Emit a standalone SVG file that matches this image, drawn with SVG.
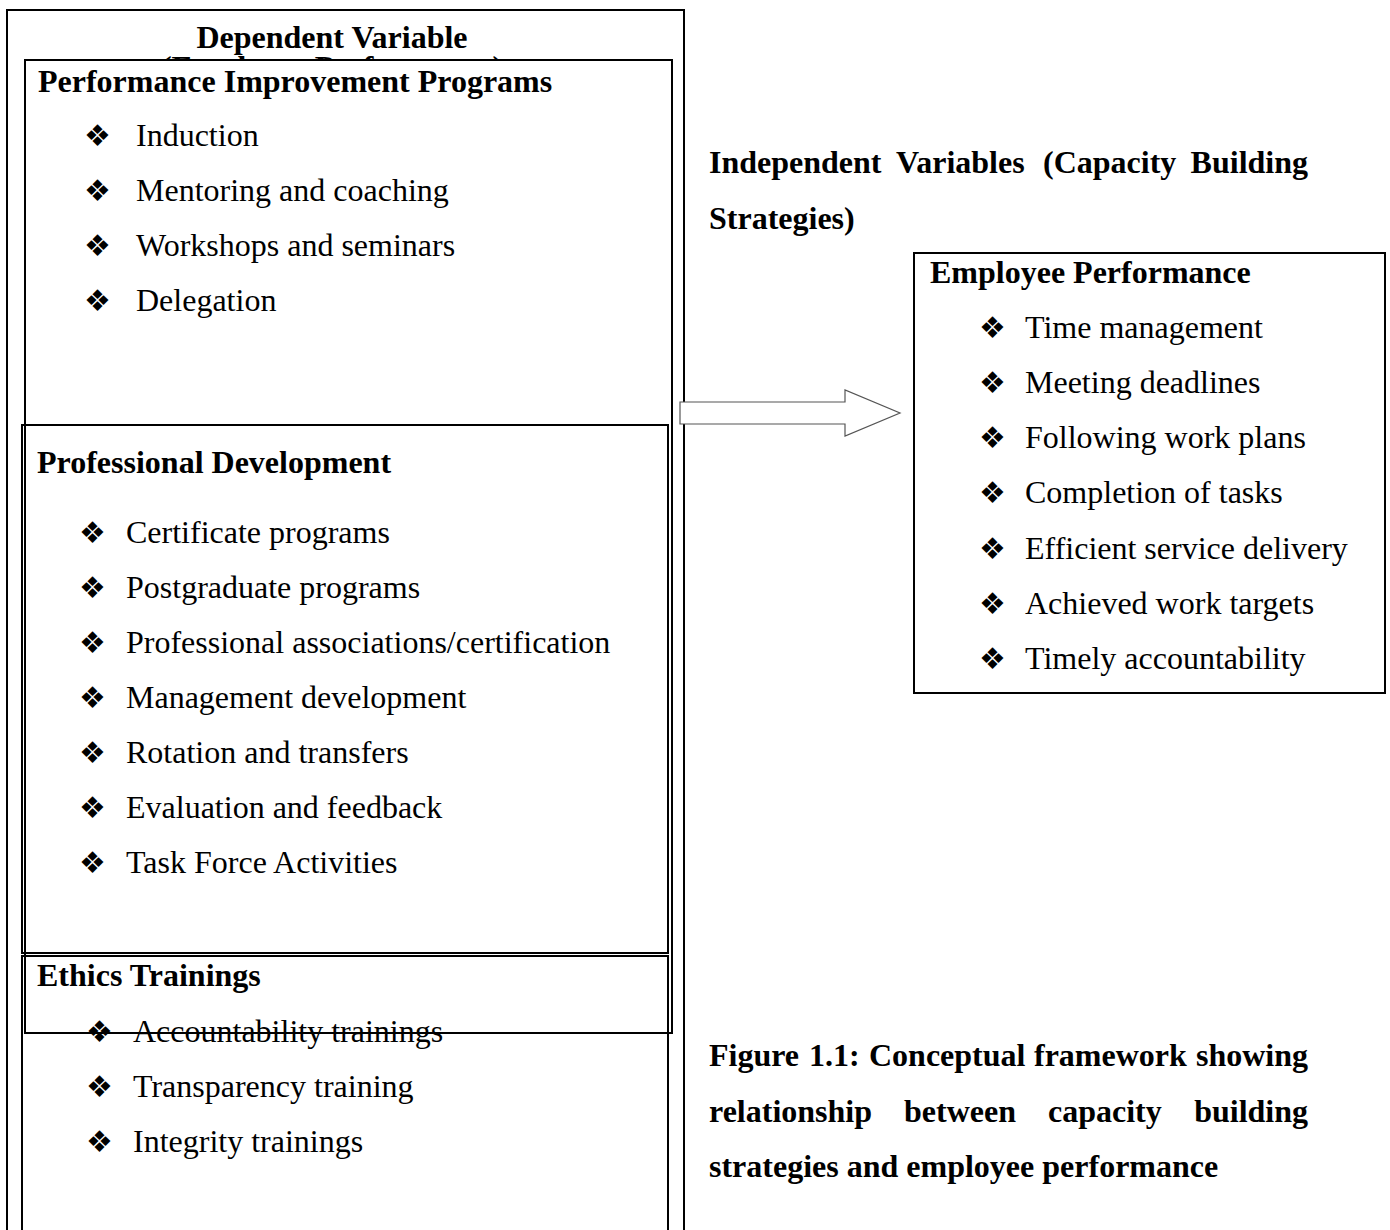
<svg xmlns="http://www.w3.org/2000/svg" width="1390" height="1230" viewBox="0 0 1390 1230">
  <style>
    .box { fill: none; stroke: #000; stroke-width: 2; }
    .h { font-family: "Liberation Serif", "Times New Roman", serif; font-size: 32px; font-weight: bold; fill: #000; }
    .t { font-family: "Liberation Serif", "Times New Roman", serif; font-size: 32px; fill: #000; }
    .b { font-family: "DejaVu Sans", sans-serif; font-size: 30px; fill: #000; }
  </style>
  <rect width="1390" height="1230" fill="#fff"/>

  <!-- outer frame: dependent variable -->
  <g id="dependent-variable">
    <rect class="box" x="7" y="10" width="677" height="1240"/>
    <text class="h" x="332" y="48" text-anchor="middle">Dependent Variable</text>
    <text class="h" x="332" y="78" text-anchor="middle">(Employee Performance)</text>
    <!-- backing of the programs box, hides the lower part of the subtitle -->
    <rect x="26" y="61" width="645" height="40" fill="#fff"/>
  </g>

  <!-- ethics trainings box -->
  <g id="ethics-trainings">
    <rect class="box" x="22" y="956" width="646" height="300"/>
    <text class="h" x="37" y="986">Ethics Trainings</text>
    <text class="b" x="86" y="1042">❖</text><text class="t" x="133" y="1042">Accountability trainings</text>
    <text class="b" x="86" y="1097">❖</text><text class="t" x="133" y="1097">Transparency training</text>
    <text class="b" x="86" y="1152">❖</text><text class="t" x="133" y="1152">Integrity trainings</text>
  </g>

  <!-- professional development box -->
  <g id="professional-development">
    <rect class="box" x="22" y="425" width="646" height="528"/>
    <text class="h" x="37" y="473">Professional Development</text>
    <text class="b" x="79" y="543">❖</text><text class="t" x="126" y="543">Certificate programs</text>
    <text class="b" x="79" y="598">❖</text><text class="t" x="126" y="598">Postgraduate programs</text>
    <text class="b" x="79" y="653">❖</text><text class="t" x="126" y="653">Professional associations/certification</text>
    <text class="b" x="79" y="708">❖</text><text class="t" x="126" y="708">Management development</text>
    <text class="b" x="79" y="763">❖</text><text class="t" x="126" y="763">Rotation and transfers</text>
    <text class="b" x="79" y="818">❖</text><text class="t" x="126" y="818">Evaluation and feedback</text>
    <text class="b" x="79" y="873">❖</text><text class="t" x="126" y="873">Task Force Activities</text>
  </g>

  <!-- performance improvement programs box -->
  <g id="performance-improvement-programs">
    <rect class="box" x="25" y="60" width="647" height="973"/>
    <text class="h" x="38" y="92">Performance Improvement Programs</text>
    <text class="b" x="84" y="146">❖</text><text class="t" x="136" y="146">Induction</text>
    <text class="b" x="84" y="201">❖</text><text class="t" x="136" y="201">Mentoring and coaching</text>
    <text class="b" x="84" y="256">❖</text><text class="t" x="136" y="256">Workshops and seminars</text>
    <text class="b" x="84" y="311">❖</text><text class="t" x="136" y="311">Delegation</text>
  </g>

  <!-- independent variables heading -->
  <g id="independent-variables">
    <text class="h" y="173"><tspan x="709">Independent</tspan><tspan x="896">Variables</tspan><tspan x="1043">(Capacity</tspan></text>
    <text class="h" x="1308" y="173" text-anchor="end">Building</text>
    <text class="h" x="709" y="229">Strategies)</text>
  </g>

  <!-- employee performance box -->
  <g id="employee-performance">
    <rect class="box" x="914" y="253" width="471" height="440"/>
    <text class="h" x="930" y="283">Employee Performance</text>
    <text class="b" x="979" y="338">❖</text><text class="t" x="1025" y="338">Time management</text>
    <text class="b" x="979" y="393">❖</text><text class="t" x="1025" y="393">Meeting deadlines</text>
    <text class="b" x="979" y="448">❖</text><text class="t" x="1025" y="448">Following work plans</text>
    <text class="b" x="979" y="503">❖</text><text class="t" x="1025" y="503">Completion of tasks</text>
    <text class="b" x="979" y="559">❖</text><text class="t" x="1025" y="559">Efficient service delivery</text>
    <text class="b" x="979" y="614">❖</text><text class="t" x="1025" y="614">Achieved work targets</text>
    <text class="b" x="979" y="669">❖</text><text class="t" x="1025" y="669">Timely accountability</text>
  </g>

  <!-- block arrow -->
  <g id="connectors">
    <polygon points="680,402 845,402 845,390 900,413 845,436 845,424 680,424" fill="#fff" stroke="#555" stroke-width="1.2"/>
  </g>

  <!-- figure caption -->
  <g id="caption">
    <text class="h" y="1066"><tspan x="709">Figure</tspan><tspan x="809">1.1:</tspan><tspan x="869">Conceptual</tspan><tspan x="1034">framework</tspan></text>
    <text class="h" x="1308" y="1066" text-anchor="end">showing</text>
    <text class="h" y="1122"><tspan x="709">relationship</tspan><tspan x="904">between</tspan><tspan x="1048">capacity</tspan></text>
    <text class="h" x="1308" y="1122" text-anchor="end">building</text>
    <text class="h" x="709" y="1177">strategies and employee performance</text>
  </g>
</svg>
